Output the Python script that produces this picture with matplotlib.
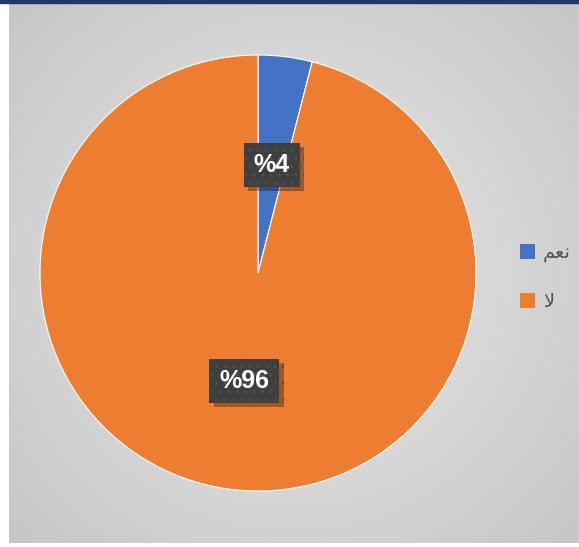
import numpy as np
from matplotlib import pyplot as plt
from matplotlib import patheffects
from matplotlib.patches import Rectangle

# data
labels = ["نعم", "لا"]
# presentation forms, visual order (matplotlib does no arabic shaping)
legend_labels = ["\ufee2\ufecc\ufee7", "\ufefb"]
values = [4, 96]
colorlist = ["#4472C4", "#ED7D31"]

W, H = 579, 547
fig = plt.figure(figsize=(W / 100, H / 100), dpi=100)
fig.patch.set_facecolor("white")

# gray radial gradient panel
bg = fig.add_axes([9 / W, 4 / H, 570 / W, 540 / H])
yy, xx = np.mgrid[-1:1:300j, -1:1:300j]
rr = np.sqrt(xx ** 2 + (yy * 0.95) ** 2)
gray = np.clip(0.915 - 0.1 * rr, 0, 1)
bg.imshow(np.dstack([gray, gray, gray]), aspect="auto",
          extent=[0, 1, 0, 1], interpolation="bicubic")
bg.set_axis_off()
# top navy strip
fig.patches.append(Rectangle((0, 1 - 3 / H), 1, 3 / H, transform=fig.transFigure,
                             color="#1F3864", zorder=5))

ax = fig.add_axes([40 / W, 56 / H, 436 / W, 436 / H])
wedges, texts, autotexts = ax.pie(
    values,
    colors=colorlist,
    startangle=90,
    counterclock=False,
    autopct=lambda p: "%{:.0f}".format(p),
    pctdistance=0.5,
    wedgeprops=dict(edgecolor="white", linewidth=0.8),
    textprops=dict(color="white", fontsize=18, fontweight="bold",
                   family="Liberation Sans"),
)
ax.set_xlim(-1, 1)
ax.set_ylim(-1, 1)
for t in autotexts:
    t.set_bbox(dict(boxstyle="square,pad=0.4", facecolor="#3F3F3F",
                    edgecolor="#4E4E4E", linewidth=0, hatch=".."))
    t.get_bbox_patch().set_path_effects([
        patheffects.SimplePatchShadow(offset=(3, -3), alpha=0.35),
        patheffects.Normal()])

leg = fig.legend(wedges, legend_labels, loc="upper left",
                 bbox_to_anchor=(502 / W, 1 - 226 / H), frameon=False,
                 handlelength=0.8, handleheight=0.8, handletextpad=0.4,
                 labelspacing=1.5, labelcolor="#505050",
                 prop=dict(family="DejaVu Sans", size=14))
for h in leg.legend_handles:
    h.set_edgecolor("none")

plt.savefig("out.png", dpi=100)
